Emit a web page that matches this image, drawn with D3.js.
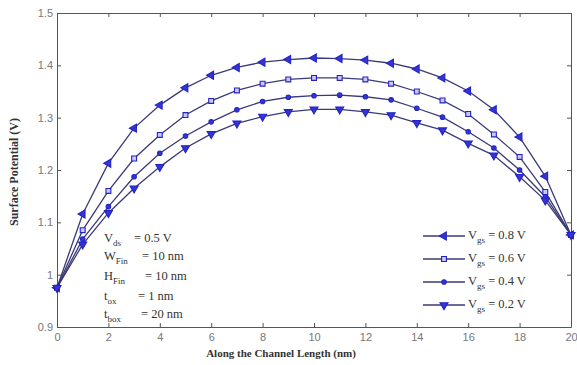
<!DOCTYPE html>
<html>
<head>
<meta charset="utf-8">
<script src="https://cdn.jsdelivr.net/npm/d3@7"></script>
<style>
  body { margin: 0; background: #fff; }
  .tick text { font-family: "Liberation Sans", sans-serif; font-size: 11px; fill: #777; }
  .lbl { font-family: "Liberation Serif", serif; font-weight: bold; fill: #333; }
  .note { font-family: "Liberation Serif", serif; font-size: 12.5px; fill: #333; }
</style>
</head>
<body>
<svg id="chart" width="577" height="365"></svg>
<script>
// data
var positions = d3.range(0, 21);
var vgs08 = [0.975, 1.116, 1.213, 1.280, 1.324, 1.357, 1.381, 1.396, 1.406, 1.411, 1.414, 1.413, 1.410, 1.404, 1.393, 1.376, 1.351, 1.315, 1.263, 1.188, 1.076];
var vgs06 = [0.975, 1.085, 1.160, 1.222, 1.267, 1.305, 1.332, 1.352, 1.365, 1.373, 1.376, 1.376, 1.373, 1.365, 1.350, 1.333, 1.307, 1.268, 1.225, 1.158, 1.076];
var vgs04 = [0.975, 1.068, 1.130, 1.187, 1.232, 1.265, 1.292, 1.315, 1.331, 1.339, 1.342, 1.343, 1.340, 1.334, 1.318, 1.301, 1.273, 1.242, 1.200, 1.149, 1.076];
var vgs02 = [0.975, 1.058, 1.118, 1.165, 1.206, 1.242, 1.269, 1.289, 1.302, 1.311, 1.316, 1.316, 1.311, 1.305, 1.290, 1.276, 1.251, 1.228, 1.187, 1.142, 1.076];
var seriesNames = ["0.8", "0.6", "0.4", "0.2"];
var xTicks = [0, 2, 4, 6, 8, 10, 12, 14, 16, 18, 20];
var yTicks = [0.9, 1, 1.1, 1.2, 1.3, 1.4, 1.5];
var notes = [["V", "ds", "= 0.5 V"], ["W", "Fin", "= 10 nm"], ["H", "Fin", "= 10 nm"], ["t", "ox", "= 1 nm"], ["t", "box", "= 20 nm"]];

var svg = d3.select("#chart");
var plotLeft = 57, plotRight = 571, plotTop = 13, plotBottom = 327;

var xScale = d3.scaleLinear().domain([0, 20]).range([plotLeft, plotRight]);
var yScale = d3.scaleLinear().domain([0.9, 1.5]).range([plotBottom, plotTop]);

// axes, box style with inward ticks on all four sides
var axisColor = "#555";
function styleAxis(g, hideText) {
  g.select(".domain").attr("stroke", axisColor);
  g.selectAll(".tick line").attr("stroke", axisColor);
  if (hideText) g.selectAll(".tick text").remove();
}
svg.append("g").attr("transform", "translate(0," + plotBottom + ")")
  .call(d3.axisBottom(xScale).tickValues(xTicks).tickSizeInner(-4).tickSizeOuter(0).tickPadding(6).tickFormat(d3.format("d")))
  .call(function(g) { styleAxis(g, false); });
svg.append("g").attr("transform", "translate(0," + plotTop + ")")
  .call(d3.axisTop(xScale).tickValues(xTicks).tickSizeInner(-4).tickSizeOuter(0))
  .call(function(g) { styleAxis(g, true); });
svg.append("g").attr("transform", "translate(" + plotLeft + ",0)")
  .call(d3.axisLeft(yScale).tickValues(yTicks).tickSizeInner(-4).tickSizeOuter(0).tickPadding(4).tickFormat(d3.format("~g")))
  .call(function(g) { styleAxis(g, false); });
svg.append("g").attr("transform", "translate(" + plotRight + ",0)")
  .call(d3.axisRight(yScale).tickValues(yTicks).tickSizeInner(-4).tickSizeOuter(0))
  .call(function(g) { styleAxis(g, true); });

// labels
svg.append("text").attr("class", "lbl").attr("font-size", "11px")
  .attr("x", 281).attr("y", 357).attr("text-anchor", "middle")
  .text("Along the Channel Length (nm)");
svg.append("text").attr("class", "lbl").attr("font-size", "12px")
  .attr("transform", "translate(18,172) rotate(-90)")
  .attr("text-anchor", "middle")
  .text("Surface Potential (V)");

// series
var allSeries = [vgs08, vgs06, vgs04, vgs02];
var lineColor = "#3a3a78", markColor = "#2222c8";
var symbols = [
  { type: d3.symbolTriangle, rot: -90, fill: "#3535d0" },
  { type: d3.symbolSquare, rot: 0, fill: "#c8c8f0" },
  { type: d3.symbolCircle, rot: 0, fill: "#3535d0" },
  { type: d3.symbolTriangle, rot: 180, fill: "#3535d0" }
];
var sizes = [28, 24, 16, 28];

var line = d3.line()
  .x(function(d, i) { return xScale(positions[i]); })
  .y(function(d) { return yScale(d); });

allSeries.forEach(function(vals) {
  svg.append("path").datum(vals)
    .attr("fill", "none").attr("stroke", lineColor).attr("stroke-width", 1.3)
    .attr("d", line);
});
allSeries.forEach(function(vals, s) {
  var sym = d3.symbol().type(symbols[s].type).size(sizes[s]);
  svg.append("g").selectAll("path").data(vals).join("path")
    .attr("d", sym)
    .attr("transform", function(d, i) { return "translate(" + xScale(positions[i]) + "," + yScale(d) + ") rotate(" + symbols[s].rot + ")"; })
    .attr("fill", symbols[s].fill).attr("stroke", markColor).attr("stroke-width", 1.1);
});

// legend
var legY = [236, 259, 282, 305];
seriesNames.forEach(function(name, s) {
  var g = svg.append("g").attr("transform", "translate(423," + legY[s] + ")");
  g.append("line").attr("x1", 0).attr("x2", 42).attr("stroke", lineColor).attr("stroke-width", 1.3);
  g.append("path").attr("d", d3.symbol().type(symbols[s].type).size(sizes[s])())
    .attr("transform", "translate(21,0) rotate(" + symbols[s].rot + ")")
    .attr("fill", symbols[s].fill).attr("stroke", markColor).attr("stroke-width", 1.1);
  var t = g.append("text").attr("class", "note").attr("x", 45).attr("y", 3);
  t.append("tspan").text("V");
  t.append("tspan").attr("font-size", "9px").attr("dy", 4).text("gs");
  t.append("tspan").attr("dy", -4).text(" = " + name + " V");
});

// device parameters
var noteY = [242, 260, 280, 300, 318];
var eqX = [134, 142, 145, 138, 141];
notes.forEach(function(n, k) {
  var t = svg.append("text").attr("class", "note").attr("x", 104).attr("y", noteY[k]);
  t.append("tspan").text(n[0]);
  t.append("tspan").attr("font-size", "9px").attr("dy", 4).text(n[1]);
  t.append("tspan").attr("dy", -4).attr("x", eqX[k]).text(n[2]);
});
</script>
</body>
</html>
